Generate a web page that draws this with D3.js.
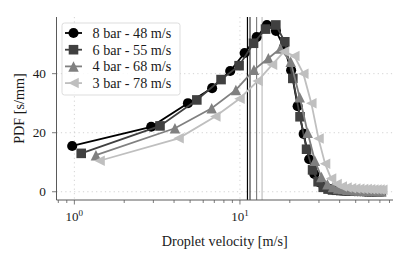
<!DOCTYPE html>
<html>
<head>
<meta charset="utf-8">
<script src="https://cdn.jsdelivr.net/npm/d3@7"></script>
<style>
  body { margin: 0; background: #fff; }
  svg text { font-family: "Liberation Serif", "DejaVu Serif", serif; fill: #1a1a1a; }
</style>
</head>
<body>
<svg id="chart" width="411" height="254"></svg>
<script>
// series labels, in plot order
const seriesNames = ["8 bar - 48 m/s", "6 bar - 55 m/s", "4 bar - 68 m/s", "3 bar - 78 m/s"];

// droplet velocity [m/s] (bin centres) and PDF [s/mm]
const vel8 = [0.97, 2.91, 4.85, 6.79, 8.73, 10.67, 12.61, 14.55, 16.49, 18.43, 20.37, 22.31, 24.25, 26.19, 28.13, 30.07, 32.01, 33.95, 35.89, 37.83, 39.77, 41.71, 43.65, 45.59, 47.53, 49.47, 51.41, 53.35, 55.29, 57.23, 59.17, 61.11, 63.05, 64.99, 66.93, 68.87, 70.81];
const pdf8 = [15.5, 22.0, 30.0, 35.1, 40.9, 47.0, 52.4, 56.5, 54.5, 49.0, 41.2, 29.0, 19.6, 11.0, 6.0, 3.2, 1.8, 1.1, 0.8, 0.6, 0.5, 0.4, 0.35, 0.3, 0.25, 0.2, 0.2, 0.15, 0.15, 0.1, 0.1, 0.1, 0.1, 0.05, 0.05, 0.05, 0.05];

const vel6 = [1.10, 3.29, 5.49, 7.69, 9.88, 12.08, 14.27, 16.47, 18.66, 20.86, 23.06, 25.25, 27.45, 29.65, 31.84, 34.04, 36.23, 38.43, 40.63, 42.82, 45.02, 47.21, 49.41, 51.61, 53.8, 56.0, 58.2, 60.39, 62.59, 64.78, 66.98, 69.18, 71.37];
const pdf6 = [13.0, 22.3, 31.1, 38.0, 42.7, 50.3, 55.1, 56.5, 50.8, 38.4, 25.4, 14.4, 7.4, 3.4, 1.5, 0.9, 0.6, 0.5, 0.4, 0.35, 0.3, 0.25, 0.2, 0.2, 0.15, 0.15, 0.1, 0.1, 0.1, 0.1, 0.05, 0.05, 0.05];

const vel4 = [1.35, 4.05, 6.75, 9.45, 12.15, 14.85, 17.55, 20.25, 22.95, 25.65, 28.35, 31.05, 33.75, 36.45, 39.15, 41.85, 44.55, 47.25, 49.95, 52.65, 55.35, 58.05, 60.75, 63.45, 66.15, 68.85, 71.55];
const pdf4 = [12.4, 21.5, 28.3, 34.5, 41.3, 45.2, 48.5, 44.0, 32.0, 20.0, 10.5, 5.0, 2.5, 1.6, 1.1, 0.9, 0.7, 0.6, 0.5, 0.45, 0.4, 0.35, 0.3, 0.3, 0.25, 0.2, 0.2];

const vel3 = [1.42, 4.26, 7.1, 9.94, 12.78, 15.62, 18.46, 21.3, 24.14, 26.98, 29.82, 32.66, 35.5, 38.34, 41.18, 44.02, 46.86, 49.7, 52.54, 55.38, 58.22, 61.06, 63.9, 66.74, 69.58, 72.42];
const pdf3 = [10.5, 18.1, 25.5, 31.5, 37.5, 43.0, 47.5, 46.0, 40.0, 30.0, 18.0, 9.5, 4.5, 2.6, 1.8, 1.4, 1.2, 1.1, 1.0, 0.95, 0.9, 0.85, 0.8, 0.8, 0.75, 0.7];

// mean velocity of each series (vertical lines)
const meanVel = [11.1, 11.5, 12.6, 13.6];

const yTicks = [0, 20, 40];
const xMajor = [1, 10];

const colors = ["#000000", "#404040", "#808080", "#bfbfbf"];

// custom triangle markers, matplotlib-like ("^" and "<")
const triUp = {
  draw(ctx, size) {
    const r = Math.sqrt(size) / 2;
    ctx.moveTo(0, -r);
    ctx.lineTo(-r, r);
    ctx.lineTo(r, r);
    ctx.closePath();
  }
};
const triLeft = {
  draw(ctx, size) {
    const r = Math.sqrt(size) / 2;
    ctx.moveTo(-r, 0);
    ctx.lineTo(r, -r);
    ctx.lineTo(r, r);
    ctx.closePath();
  }
};
const markers = [
  d3.symbol().type(d3.symbolCircle).size(80),
  d3.symbol().type(d3.symbolSquare).size(92),
  d3.symbol().type(triUp).size(110),
  d3.symbol().type(triLeft).size(110)
];

const series = [
  { vel: vel8, pdf: pdf8 },
  { vel: vel6, pdf: pdf6 },
  { vel: vel4, pdf: pdf4 },
  { vel: vel3, pdf: pdf3 }
];

const svg = d3.select("#chart");
const plotL = 56.5, plotR = 393, plotT = 17, plotB = 200;

const x = d3.scaleLog().domain([0.78, 84]).range([plotL, plotR]);
const y = d3.scaleLinear().domain([-2.8, 59.2]).range([plotB, plotT]);

// grid (dotted)
const grid = svg.append("g").attr("stroke", "#c8c8c8").attr("stroke-width", 0.8).attr("stroke-dasharray", "1.2,3.2");
grid.selectAll(".gy").data(yTicks).join("line")
  .attr("x1", plotL).attr("x2", plotR)
  .attr("y1", d => y(d)).attr("y2", d => y(d));
grid.selectAll(".gx").data(xMajor).join("line")
  .attr("x1", d => x(d)).attr("x2", d => x(d))
  .attr("y1", plotT).attr("y2", plotB);

// mean velocity lines
svg.append("g").selectAll("line").data(meanVel).join("line")
  .attr("x1", d => x(d)).attr("x2", d => x(d))
  .attr("y1", plotT).attr("y2", plotB)
  .attr("stroke", (d, i) => colors[i])
  .attr("stroke-width", 1.2);

// series: line + markers
const line = d3.line().x(d => x(d[0])).y(d => y(d[1]));
series.forEach((s, i) => {
  const pts = s.vel.map((v, j) => [v, s.pdf[j]]);
  const g = svg.append("g");
  g.append("path")
    .attr("d", line(pts))
    .attr("fill", "none")
    .attr("stroke", colors[i])
    .attr("stroke-width", 1.8);
  g.selectAll("path.m").data(pts).join("path")
    .attr("class", "m")
    .attr("d", markers[i])
    .attr("transform", d => "translate(" + x(d[0]) + "," + y(d[1]) + ")")
    .attr("fill", colors[i]);
});

// axes
const axisColor = "#5a5a5a";
const xAxis = svg.append("g").attr("transform", "translate(0," + plotB + ")");
xAxis.append("line").attr("x1", plotL).attr("x2", plotR).attr("stroke", axisColor).attr("stroke-width", 1);
const minorTicks = x.ticks().filter(t => xMajor.indexOf(t) < 0 && t >= 0.78 && t <= 84);
xAxis.selectAll(".minor").data(minorTicks).join("line")
  .attr("x1", d => x(d)).attr("x2", d => x(d))
  .attr("y1", 0).attr("y2", 3)
  .attr("stroke", axisColor).attr("stroke-width", 0.8);
xAxis.selectAll(".major").data(xMajor).join("line")
  .attr("x1", d => x(d)).attr("x2", d => x(d))
  .attr("y1", 0).attr("y2", 4.5)
  .attr("stroke", axisColor).attr("stroke-width", 0.8);
const xl = xAxis.selectAll(".lab").data(xMajor).join("text")
  .attr("x", d => x(d)).attr("y", 20.5)
  .attr("text-anchor", "middle")
  .attr("font-size", 13);
xl.append("tspan").text("10");
xl.append("tspan").attr("dy", -5).attr("font-size", 9).text(d => Math.round(Math.log10(d)));

svg.append("text")
  .attr("x", (plotL + plotR) / 2).attr("y", 246)
  .attr("text-anchor", "middle")
  .attr("font-size", 14.2)
  .text("Droplet velocity [m/s]");

const yAxis = svg.append("g");
yAxis.append("line").attr("x1", plotL).attr("x2", plotL).attr("y1", plotT).attr("y2", plotB).attr("stroke", axisColor).attr("stroke-width", 1);
yAxis.selectAll(".tk").data(yTicks).join("line")
  .attr("x1", plotL - 4.5).attr("x2", plotL)
  .attr("y1", d => y(d)).attr("y2", d => y(d))
  .attr("stroke", axisColor).attr("stroke-width", 0.8);
yAxis.selectAll(".lab").data(yTicks).join("text")
  .attr("x", plotL - 10.5).attr("y", d => y(d) + 4.5)
  .attr("text-anchor", "end")
  .attr("font-size", 13.3)
  .text(d => d);

svg.append("text")
  .attr("transform", "translate(23.5," + (plotT + plotB) / 2 + ") rotate(-90)")
  .attr("text-anchor", "middle")
  .attr("font-size", 14.2)
  .text("PDF [s/mm]");

// legend
const leg = svg.append("g").attr("transform", "translate(62,23)");
leg.append("rect")
  .attr("width", 118).attr("height", 72)
  .attr("rx", 2.5)
  .attr("fill", "#fff").attr("fill-opacity", 0.85)
  .attr("stroke", "#d4d4d4").attr("stroke-width", 0.8);
seriesNames.forEach((name, i) => {
  const ry = 10 + i * 16.7;
  leg.append("line")
    .attr("x1", 3).attr("x2", 20).attr("y1", ry).attr("y2", ry)
    .attr("stroke", colors[i]).attr("stroke-width", 1.8);
  leg.append("path")
    .attr("d", markers[i]())
    .attr("transform", "translate(11.5," + ry + ")")
    .attr("fill", colors[i]);
  leg.append("text")
    .attr("x", 30.5).attr("y", ry + 4.8)
    .attr("font-size", 14.2)
    .text(name);
});
</script>
</body>
</html>
